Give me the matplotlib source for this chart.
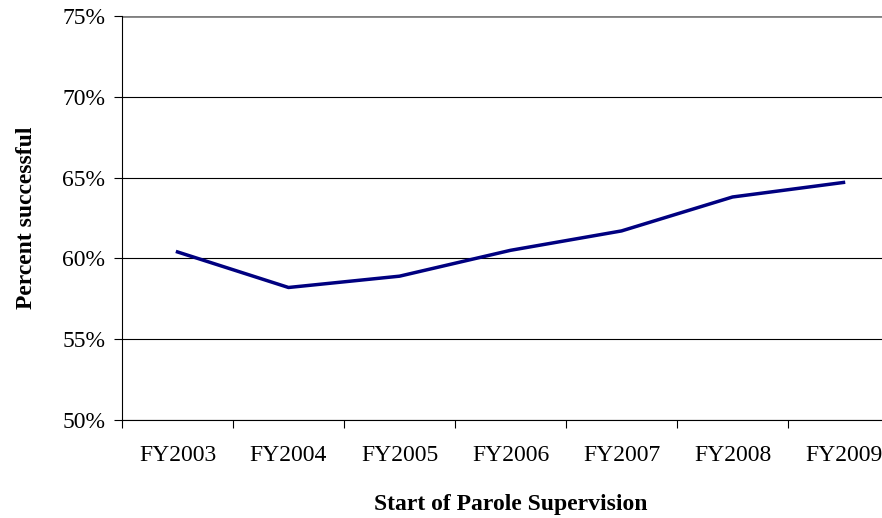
import matplotlib.pyplot as plt
import numpy as np

years = ["FY2003", "FY2004", "FY2005", "FY2006", "FY2007", "FY2008", "FY2009"]
success = [60.4, 58.2, 58.9, 60.5, 61.7, 63.8, 64.7]

plt.rcParams["font.family"] = ["Liberation Serif", "DejaVu Serif"]
W, H = 882, 518
fig = plt.figure(figsize=(W / 100, H / 100), dpi=100)
ax = fig.add_axes([122 / W, 1 - 420 / H, (899 - 122) / W, (420 - 16) / H])

x = np.arange(len(years))
ax.plot(x, success, color="#000080", lw=2.5)
ax.set_xlim(-0.5, len(years) - 0.5)
ax.set_ylim(50, 75)
ax.set_yticks(range(50, 76, 5))
ax.set_yticklabels([f"{v}%" for v in range(50, 76, 5)], fontsize=17)
ax.yaxis.grid(True, color="black", lw=0.8)
ax.get_ygridlines()[-1].set_color("0.5")
ax.get_ygridlines()[-1].set_linewidth(2)
ax.set_axisbelow(True)
ax.set_xticks(x)
ax.set_xticklabels(years, fontsize=17)
ax.tick_params(axis="x", length=0, pad=18)
ax.set_xticks(np.arange(-0.5, len(years)), minor=True)
ax.tick_params(axis="x", which="minor", length=6, direction="out", width=0.8)
ax.tick_params(axis="y", length=6, direction="out", width=0.8, pad=6)
for s in ["top", "right"]:
    ax.spines[s].set_visible(False)
ax.spines["left"].set_linewidth(0.8)
ax.spines["bottom"].set_linewidth(0.8)
ax.set_xlabel("Start of Parole Supervision", fontsize=17, fontweight="bold", labelpad=20)
ax.set_ylabel("Percent successful", fontsize=17, fontweight="bold", labelpad=18)
fig.savefig("out.png", dpi=100)
